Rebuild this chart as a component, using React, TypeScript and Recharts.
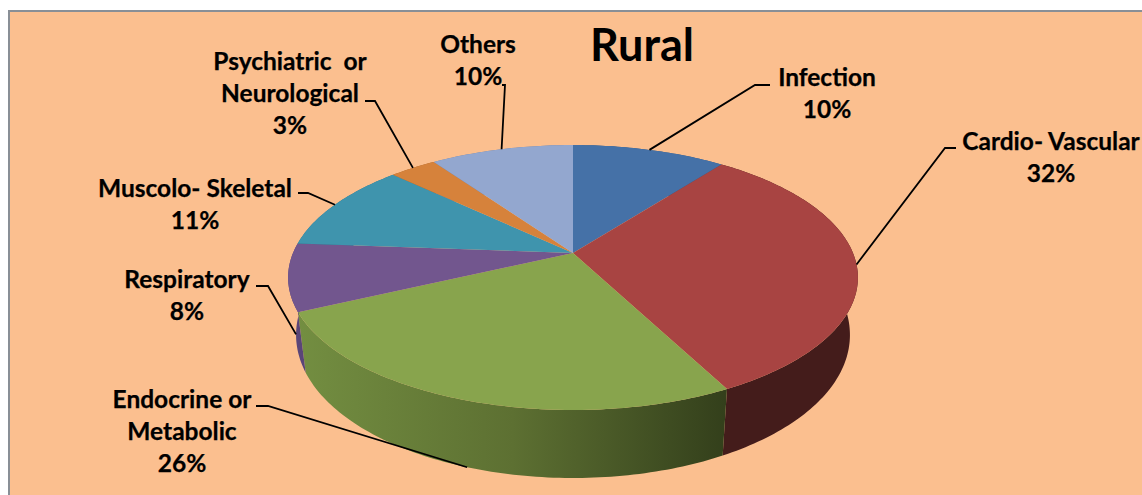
import React from "react";
import { PieChart, Pie } from "recharts";

const title = "Rural";
const categories = ["Infection", "Cardio- Vascular", "Endocrine or Metabolic", "Respiratory", "Muscolo- Skeletal", "Psychiatric or Neurological", "Others"];
const values = [10.4, 32, 25.6, 8.2, 10.9, 3.2, 9.7];
const labelLines = [["Infection"], ["Cardio- Vascular"], ["Endocrine or", "Metabolic"], ["Respiratory"], ["Muscolo- Skeletal"], ["Psychiatric  or", "Neurological"], ["Others"]];

const topColors = ["#4571a7", "#a84442", "#88a44d", "#72568e", "#3f94ad", "#d6823b", "#93a7cf"];
const wallFrom = ["#35587f", "#441c1b", "#738e41", "#5a4578", "#2f7186", "#a3622c", "#707f9e"];
const wallTo = ["#35587f", "#441c1b", "#333f1b", "#5a4578", "#2f7186", "#a3622c", "#707f9e"];

// label layout: text centre x, first baseline y, elbow point, stub end point
const labelCentreX = [827, 1051, 182, 187, 195, 290, 478];
const labelBaseY = [86, 150, 408, 288, 197, 70, 53];
const elbowX = [755, 945, 268, 268, 308, 375, 505];
const elbowY = [85, 148, 406, 286, 193, 101, 85];
const stubX = [770, 956, 256, 256, 298, 365, 502];
const LINE_HEIGHT = 32;

const CX = 573;
const CY = 253;
const RADIUS = 280;
const FLATTEN = 0.457;
const PERSPECTIVE = 0.185;
const WALL_SHRINK = 0.972;
const WALL_DEPTH_BASE = 55;
const WALL_DEPTH_SLOPE = 13;

type P = [number, number];

function rim(cx: number, cy: number, r: number, angle: number): P {
  const t = (angle * Math.PI) / 180;
  const u = Math.cos(t);
  const v = -Math.sin(t);
  const w = 1 - PERSPECTIVE * v;
  return [cx + (r * u) / w, cy + (r * FLATTEN * v) / w];
}

function floorRim(cx: number, cy: number, r: number, angle: number): P {
  const t = (angle * Math.PI) / 180;
  const v = -Math.sin(t);
  const [x, y] = rim(cx, cy, r, angle);
  return [cx + (x - cx) * WALL_SHRINK, y + WALL_DEPTH_BASE + WALL_DEPTH_SLOPE * v];
}

function sweep(start: number, end: number): number[] {
  const n = Math.max(2, Math.ceil(Math.abs(end - start)));
  return Array.from({ length: n + 1 }, (_, i) => start + ((end - start) * i) / n);
}

const toPath = (pts: P[]) => "M" + pts.map((p) => `${p[0].toFixed(2)},${p[1].toFixed(2)}`).join("L") + "Z";

function TopShape(props: any) {
  const { cx, cy, outerRadius, startAngle, endAngle, payload } = props;
  const pts: P[] = [[cx, cy], ...sweep(startAngle, endAngle).map((a) => rim(cx, cy, outerRadius, a))];
  return <path d={toPath(pts)} fill={topColors[payload.idx]} stroke="none" />;
}

function WallShape(props: any) {
  const { cx, cy, outerRadius, startAngle, endAngle, payload } = props;
  const angles = sweep(startAngle, endAngle);
  // one quad per step, so the silhouette follows the straight rim-to-floor edges
  const quads = angles
    .slice(1)
    .map((a, k) =>
      toPath([
        rim(cx, cy, outerRadius, angles[k]),
        rim(cx, cy, outerRadius, a),
        floorRim(cx, cy, outerRadius, a),
        floorRim(cx, cy, outerRadius, angles[k]),
      ])
    )
    .join("");
  const i = payload.idx;
  const id = `wall-${i}`;
  return (
    <g>
      <defs>
        <linearGradient id={id} x1="0" y1="0" x2="1" y2="0">
          <stop offset="0" stopColor={wallFrom[i]} />
          <stop offset="0.5" stopColor={i === 2 ? "#5d7032" : wallFrom[i]} />
          <stop offset="1" stopColor={wallTo[i]} />
        </linearGradient>
      </defs>
      <path d={quads} fill={`url(#${id})`} fillRule="nonzero" stroke="none" />
    </g>
  );
}

function SliceLabel(props: any) {
  const { cx, cy, outerRadius, midAngle, payload } = props;
  const i = payload.idx;
  const v = -Math.sin((midAngle * Math.PI) / 180);
  const anchor = v > 0.1 ? floorRim(cx, cy, outerRadius, midAngle) : rim(cx, cy, outerRadius, midAngle);
  const lines = [...labelLines[i], `${Math.round(payload.value)}%`];
  return (
    <g>
      <polyline
        points={`${anchor[0]},${anchor[1]} ${elbowX[i]},${elbowY[i]} ${stubX[i]},${elbowY[i]}`}
        fill="none"
        stroke="#000"
        strokeWidth={1.8}
      />
      <text
        textAnchor="middle"
        fontFamily="Lato, Carlito, sans-serif"
        fontWeight={700}
        fontSize={24.5}
        fill="#000"
        stroke="#000"
        strokeWidth={0.25}
        style={{ whiteSpace: "pre" }}
      >
        {lines.map((line, k) => (
          <tspan key={k} x={labelCentreX[i]} y={labelBaseY[i] + k * LINE_HEIGHT}>
            {line}
          </tspan>
        ))}
      </text>
    </g>
  );
}

const data = categories.map((name, idx) => ({ name, value: values[idx], idx }));

export default function App() {
  return (
    <div style={{ position: "absolute", left: 0, top: 0, width: 1142, height: 495, overflow: "hidden", background: "#fff" }}>
      <div
        style={{
          position: "absolute",
          left: 8,
          top: 10,
          right: 0,
          bottom: 0,
          background: "#fbbf8f",
          borderLeft: "2px solid #898f96",
          borderTop: "2px solid #898f96",
        }}
      />
      <div style={{ position: "absolute", left: 0, top: 0 }}>
        <PieChart width={1142} height={495} margin={{ top: 0, right: 0, bottom: 0, left: 0 }}>
          <Pie
            data={data}
            dataKey="value"
            nameKey="name"
            cx={CX}
            cy={CY}
            outerRadius={RADIUS}
            startAngle={90}
            endAngle={-270}
            isAnimationActive={false}
            shape={WallShape}
            stroke="none"
            label={false}
            labelLine={false}
          />
          <Pie
            data={data}
            dataKey="value"
            nameKey="name"
            cx={CX}
            cy={CY}
            outerRadius={RADIUS}
            startAngle={90}
            endAngle={-270}
            isAnimationActive={false}
            shape={TopShape}
            stroke="none"
            label={SliceLabel}
            labelLine={false}
          />
          <text x={642} y={61} textAnchor="middle" fontFamily="Lato, Carlito, sans-serif" fontWeight={700} fontSize={45} fill="#000">
            {title}
          </text>
        </PieChart>
      </div>
    </div>
  );
}
